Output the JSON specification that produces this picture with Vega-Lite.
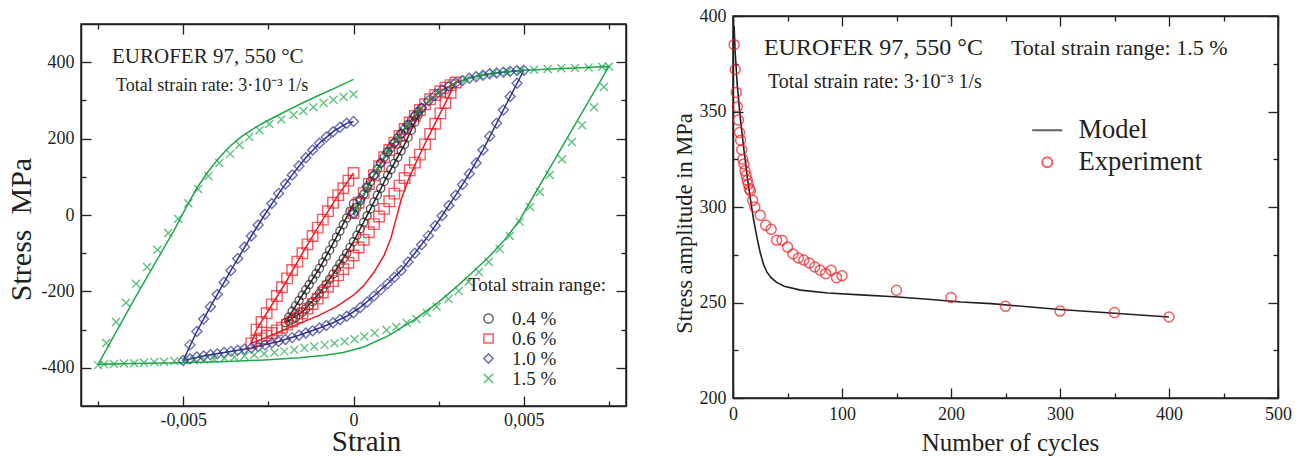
{
"$schema": "https://vega.github.io/schema/vega-lite/v6.json",
"background": "white",
"padding": {"left": 5, "top": 6, "right": 5, "bottom": 0},
"spacing": 44,
"resolve": {"scale": {"color": "independent", "shape": "independent"}, "legend": {"color": "independent", "shape": "independent"}},
"config": {
 "font": "Liberation Serif",
 "view": {"stroke": "#231f20", "strokeWidth": 1.5},
 "axis": {"grid": false, "domain": true, "domainColor": "#231f20", "domainWidth": 1.5, "tickColor": "#231f20", "tickWidth": 1.3, "labelColor": "#231f20", "titleColor": "#231f20", "labelFont": "Liberation Serif", "titleFont": "Liberation Serif", "titleFontWeight": "normal", "labelFlush": false, "labelOverlap": false, "labelFontSize": 18, "labelPadding": 17},
 "legend": {"labelFont": "Liberation Serif", "titleFont": "Liberation Serif", "labelColor": "#231f20", "titleColor": "#231f20", "titleFontWeight": "normal"},
 "title": {"font": "Liberation Serif"}
},
"datasets": {
 "model": [
  {"r":"0.4 %","e":0,"s":0},{"r":"0.4 %","e":0.5,"s":88},{"r":"0.4 %","e":1,"s":165},{"r":"0.4 %","e":1.5,"s":225},{"r":"0.4 %","e":2,"s":280},
  {"r":"0.4 %","e":1.5,"s":185},{"r":"0.4 %","e":1,"s":104},{"r":"0.4 %","e":0.5,"s":16},{"r":"0.4 %","e":0,"s":-70},{"r":"0.4 %","e":-0.5,"s":-142},{"r":"0.4 %","e":-1,"s":-205},{"r":"0.4 %","e":-1.5,"s":-254},{"r":"0.4 %","e":-2,"s":-282},
  {"r":"0.4 %","e":-1.5,"s":-210},{"r":"0.4 %","e":-1,"s":-140},{"r":"0.4 %","e":-0.5,"s":-58},{"r":"0.4 %","e":0,"s":30},
  {"r":"0.6 %","e":0,"s":0},{"r":"0.6 %","e":0.5,"s":88},{"r":"0.6 %","e":1,"s":165},{"r":"0.6 %","e":1.5,"s":225},{"r":"0.6 %","e":2,"s":281},{"r":"0.6 %","e":2.5,"s":321},{"r":"0.6 %","e":3,"s":347},
  {"r":"0.6 %","e":2.6,"s":276},{"r":"0.6 %","e":2.2,"s":205},{"r":"0.6 %","e":1.9,"s":150},{"r":"0.6 %","e":1.6,"s":90},{"r":"0.6 %","e":1.4,"s":40},{"r":"0.6 %","e":1.25,"s":-10},{"r":"0.6 %","e":1.1,"s":-60},{"r":"0.6 %","e":0.9,"s":-105},{"r":"0.6 %","e":0.6,"s":-150},{"r":"0.6 %","e":0.3,"s":-185},{"r":"0.6 %","e":0,"s":-210},{"r":"0.6 %","e":-0.5,"s":-240},{"r":"0.6 %","e":-1,"s":-262},{"r":"0.6 %","e":-1.5,"s":-281},{"r":"0.6 %","e":-2,"s":-299},{"r":"0.6 %","e":-2.5,"s":-318},{"r":"0.6 %","e":-3,"s":-336},
  {"r":"0.6 %","e":-2.85,"s":-300},{"r":"0.6 %","e":-2.5,"s":-250},{"r":"0.6 %","e":-2,"s":-178},{"r":"0.6 %","e":-1.5,"s":-100},{"r":"0.6 %","e":-1,"s":-26},{"r":"0.6 %","e":-0.5,"s":45},{"r":"0.6 %","e":0,"s":110},
  {"r":"1.0 %","e":0,"s":0},{"r":"1.0 %","e":0.5,"s":88},{"r":"1.0 %","e":1,"s":165},{"r":"1.0 %","e":1.5,"s":225},{"r":"1.0 %","e":2,"s":281},{"r":"1.0 %","e":2.5,"s":321},{"r":"1.0 %","e":3,"s":346},{"r":"1.0 %","e":3.5,"s":361},{"r":"1.0 %","e":4,"s":370},{"r":"1.0 %","e":4.5,"s":375},{"r":"1.0 %","e":5,"s":379},
  {"r":"1.0 %","e":4.6,"s":310},{"r":"1.0 %","e":4.2,"s":240},{"r":"1.0 %","e":3.8,"s":170},{"r":"1.0 %","e":3.4,"s":108},{"r":"1.0 %","e":3,"s":52},{"r":"1.0 %","e":2.6,"s":-2},{"r":"1.0 %","e":2.2,"s":-54},{"r":"1.0 %","e":1.8,"s":-100},{"r":"1.0 %","e":1.4,"s":-145},{"r":"1.0 %","e":1,"s":-180},{"r":"1.0 %","e":0.6,"s":-212},{"r":"1.0 %","e":0.2,"s":-242},{"r":"1.0 %","e":-0.2,"s":-265},{"r":"1.0 %","e":-0.6,"s":-282},{"r":"1.0 %","e":-1,"s":-296},{"r":"1.0 %","e":-1.6,"s":-315},{"r":"1.0 %","e":-2.2,"s":-331},{"r":"1.0 %","e":-3,"s":-348},{"r":"1.0 %","e":-3.8,"s":-360},{"r":"1.0 %","e":-4.4,"s":-369},{"r":"1.0 %","e":-5,"s":-381},
  {"r":"1.0 %","e":-4.6,"s":-305},{"r":"1.0 %","e":-4.2,"s":-240},{"r":"1.0 %","e":-3.6,"s":-145},{"r":"1.0 %","e":-3,"s":-55},{"r":"1.0 %","e":-2.6,"s":2},{"r":"1.0 %","e":-2.2,"s":56},{"r":"1.0 %","e":-1.8,"s":105},{"r":"1.0 %","e":-1.4,"s":150},{"r":"1.0 %","e":-1,"s":188},{"r":"1.0 %","e":-0.6,"s":218},{"r":"1.0 %","e":-0.2,"s":240},{"r":"1.0 %","e":0,"s":245},
  {"r":"1.5 %","e":0,"s":0},{"r":"1.5 %","e":0.5,"s":88},{"r":"1.5 %","e":1,"s":165},{"r":"1.5 %","e":1.5,"s":225},{"r":"1.5 %","e":2,"s":281},{"r":"1.5 %","e":2.5,"s":321},{"r":"1.5 %","e":3,"s":346},{"r":"1.5 %","e":3.5,"s":361},{"r":"1.5 %","e":4,"s":370},{"r":"1.5 %","e":4.5,"s":375},{"r":"1.5 %","e":5,"s":379},{"r":"1.5 %","e":5.5,"s":381},{"r":"1.5 %","e":6,"s":383},{"r":"1.5 %","e":6.5,"s":385},{"r":"1.5 %","e":7,"s":387},{"r":"1.5 %","e":7.5,"s":389},
  {"r":"1.5 %","e":6.2,"s":190},{"r":"1.5 %","e":4.88,"s":-13},{"r":"1.5 %","e":4.44,"s":-65},{"r":"1.5 %","e":3.97,"s":-110},{"r":"1.5 %","e":3.47,"s":-152},{"r":"1.5 %","e":3.09,"s":-183},{"r":"1.5 %","e":2.5,"s":-228},{"r":"1.5 %","e":1.79,"s":-274},{"r":"1.5 %","e":1.03,"s":-316},{"r":"1.5 %","e":0.32,"s":-345},{"r":"1.5 %","e":-0.3,"s":-360},{"r":"1.5 %","e":-0.9,"s":-368},{"r":"1.5 %","e":-1.6,"s":-374},{"r":"1.5 %","e":-2.5,"s":-379},{"r":"1.5 %","e":-3.5,"s":-383},{"r":"1.5 %","e":-5,"s":-387},{"r":"1.5 %","e":-6.5,"s":-389},{"r":"1.5 %","e":-7.5,"s":-391},
  {"r":"1.5 %","e":-6.4,"s":-215},{"r":"1.5 %","e":-5.26,"s":-39},{"r":"1.5 %","e":-4.9,"s":22},{"r":"1.5 %","e":-4.6,"s":70},{"r":"1.5 %","e":-4.3,"s":110},{"r":"1.5 %","e":-3.97,"s":147},{"r":"1.5 %","e":-3.65,"s":178},{"r":"1.5 %","e":-3.29,"s":205},{"r":"1.5 %","e":-2.9,"s":228},{"r":"1.5 %","e":-2.5,"s":248},{"r":"1.5 %","e":-2,"s":271},{"r":"1.5 %","e":-1.53,"s":292},{"r":"1.5 %","e":-1,"s":314},{"r":"1.5 %","e":-0.5,"s":334},{"r":"1.5 %","e":0,"s":355}
 ],
 "exp": [
  {"r":"0.4 %","e":0,"s":2},{"r":"0.4 %","e":0.1,"s":20},{"r":"0.4 %","e":0.2,"s":37},{"r":"0.4 %","e":0.3,"s":54},{"r":"0.4 %","e":0.4,"s":71},{"r":"0.4 %","e":0.5,"s":88},{"r":"0.4 %","e":0.6,"s":104},{"r":"0.4 %","e":0.7,"s":120},{"r":"0.4 %","e":0.8,"s":136},{"r":"0.4 %","e":0.9,"s":151},{"r":"0.4 %","e":1,"s":165},{"r":"0.4 %","e":1.1,"s":177},{"r":"0.4 %","e":1.2,"s":189},{"r":"0.4 %","e":1.3,"s":201},{"r":"0.4 %","e":1.4,"s":213},{"r":"0.4 %","e":1.5,"s":225},{"r":"0.4 %","e":1.6,"s":236},{"r":"0.4 %","e":1.7,"s":247},{"r":"0.4 %","e":1.8,"s":259},{"r":"0.4 %","e":1.9,"s":270},{"r":"0.4 %","e":2,"s":280},
  {"r":"0.4 %","e":1.9,"s":262},{"r":"0.4 %","e":1.8,"s":243},{"r":"0.4 %","e":1.7,"s":222},{"r":"0.4 %","e":1.6,"s":203},{"r":"0.4 %","e":1.5,"s":185},{"r":"0.4 %","e":1.4,"s":168},{"r":"0.4 %","e":1.3,"s":151},{"r":"0.4 %","e":1.2,"s":135},{"r":"0.4 %","e":1.1,"s":119},{"r":"0.4 %","e":1,"s":104},{"r":"0.4 %","e":0.9,"s":88},{"r":"0.4 %","e":0.8,"s":70},{"r":"0.4 %","e":0.7,"s":52},{"r":"0.4 %","e":0.6,"s":34},{"r":"0.4 %","e":0.5,"s":16},{"r":"0.4 %","e":0.4,"s":-2},{"r":"0.4 %","e":0.3,"s":-19},{"r":"0.4 %","e":0.2,"s":-36},{"r":"0.4 %","e":0.1,"s":-53},{"r":"0.4 %","e":0,"s":-70},{"r":"0.4 %","e":-0.1,"s":-85},{"r":"0.4 %","e":-0.2,"s":-100},{"r":"0.4 %","e":-0.3,"s":-114},{"r":"0.4 %","e":-0.4,"s":-128},{"r":"0.4 %","e":-0.5,"s":-142},{"r":"0.4 %","e":-0.6,"s":-155},{"r":"0.4 %","e":-0.7,"s":-168},{"r":"0.4 %","e":-0.8,"s":-181},{"r":"0.4 %","e":-0.9,"s":-193},{"r":"0.4 %","e":-1,"s":-205},{"r":"0.4 %","e":-1.1,"s":-216},{"r":"0.4 %","e":-1.2,"s":-227},{"r":"0.4 %","e":-1.3,"s":-237},{"r":"0.4 %","e":-1.4,"s":-246},{"r":"0.4 %","e":-1.5,"s":-254},{"r":"0.4 %","e":-1.6,"s":-261},{"r":"0.4 %","e":-1.7,"s":-268},{"r":"0.4 %","e":-1.8,"s":-273},{"r":"0.4 %","e":-1.9,"s":-278},{"r":"0.4 %","e":-2,"s":-282},
  {"r":"0.4 %","e":-1.9,"s":-267},{"r":"0.4 %","e":-1.8,"s":-252},{"r":"0.4 %","e":-1.7,"s":-238},{"r":"0.4 %","e":-1.6,"s":-224},{"r":"0.4 %","e":-1.5,"s":-210},{"r":"0.4 %","e":-1.4,"s":-196},{"r":"0.4 %","e":-1.3,"s":-182},{"r":"0.4 %","e":-1.2,"s":-168},{"r":"0.4 %","e":-1.1,"s":-154},{"r":"0.4 %","e":-1,"s":-140},{"r":"0.4 %","e":-0.9,"s":-124},{"r":"0.4 %","e":-0.8,"s":-108},{"r":"0.4 %","e":-0.7,"s":-92},{"r":"0.4 %","e":-0.6,"s":-75},{"r":"0.4 %","e":-0.5,"s":-58},{"r":"0.4 %","e":-0.4,"s":-42},{"r":"0.4 %","e":-0.3,"s":-25},{"r":"0.4 %","e":-0.2,"s":-8},{"r":"0.4 %","e":-0.1,"s":10},{"r":"0.4 %","e":0,"s":30},
  {"r":"0.6 %","e":0,"s":5},{"r":"0.6 %","e":0.15,"s":32},{"r":"0.6 %","e":0.3,"s":58},{"r":"0.6 %","e":0.45,"s":81},{"r":"0.6 %","e":0.6,"s":104},{"r":"0.6 %","e":0.75,"s":128},{"r":"0.6 %","e":0.9,"s":151},{"r":"0.6 %","e":1.05,"s":170},{"r":"0.6 %","e":1.2,"s":189},{"r":"0.6 %","e":1.35,"s":207},{"r":"0.6 %","e":1.5,"s":225},{"r":"0.6 %","e":1.65,"s":242},{"r":"0.6 %","e":1.8,"s":259},{"r":"0.6 %","e":1.95,"s":275},{"r":"0.6 %","e":2.1,"s":290},{"r":"0.6 %","e":2.25,"s":303},{"r":"0.6 %","e":2.4,"s":314},{"r":"0.6 %","e":2.55,"s":324},{"r":"0.6 %","e":2.7,"s":333},{"r":"0.6 %","e":2.85,"s":340},{"r":"0.6 %","e":3,"s":347},
  {"r":"0.6 %","e":2.85,"s":320},{"r":"0.6 %","e":2.7,"s":293},{"r":"0.6 %","e":2.55,"s":266},{"r":"0.6 %","e":2.4,"s":239},{"r":"0.6 %","e":2.25,"s":212},{"r":"0.6 %","e":2.1,"s":185},{"r":"0.6 %","e":1.95,"s":158},{"r":"0.6 %","e":1.8,"s":137},{"r":"0.6 %","e":1.65,"s":117},{"r":"0.6 %","e":1.5,"s":97},{"r":"0.6 %","e":1.35,"s":77},{"r":"0.6 %","e":1.2,"s":56},{"r":"0.6 %","e":1.05,"s":36},{"r":"0.6 %","e":0.9,"s":16},{"r":"0.6 %","e":0.75,"s":-4},{"r":"0.6 %","e":0.6,"s":-24},{"r":"0.6 %","e":0.45,"s":-45},{"r":"0.6 %","e":0.3,"s":-65},{"r":"0.6 %","e":0.15,"s":-85},{"r":"0.6 %","e":0,"s":-106},{"r":"0.6 %","e":-0.15,"s":-125},{"r":"0.6 %","e":-0.3,"s":-142},{"r":"0.6 %","e":-0.45,"s":-158},{"r":"0.6 %","e":-0.6,"s":-173},{"r":"0.6 %","e":-0.75,"s":-188},{"r":"0.6 %","e":-0.9,"s":-203},{"r":"0.6 %","e":-1.05,"s":-219},{"r":"0.6 %","e":-1.2,"s":-233},{"r":"0.6 %","e":-1.35,"s":-245},{"r":"0.6 %","e":-1.5,"s":-258},{"r":"0.6 %","e":-1.65,"s":-268},{"r":"0.6 %","e":-1.8,"s":-278},{"r":"0.6 %","e":-1.95,"s":-287},{"r":"0.6 %","e":-2.1,"s":-295},{"r":"0.6 %","e":-2.25,"s":-302},{"r":"0.6 %","e":-2.4,"s":-309},{"r":"0.6 %","e":-2.55,"s":-316},{"r":"0.6 %","e":-2.7,"s":-323},{"r":"0.6 %","e":-2.85,"s":-329},{"r":"0.6 %","e":-3,"s":-336},
  {"r":"0.6 %","e":-2.85,"s":-300},{"r":"0.6 %","e":-2.7,"s":-280},{"r":"0.6 %","e":-2.55,"s":-257},{"r":"0.6 %","e":-2.4,"s":-234},{"r":"0.6 %","e":-2.25,"s":-212},{"r":"0.6 %","e":-2.1,"s":-189},{"r":"0.6 %","e":-1.95,"s":-166},{"r":"0.6 %","e":-1.8,"s":-144},{"r":"0.6 %","e":-1.65,"s":-122},{"r":"0.6 %","e":-1.5,"s":-100},{"r":"0.6 %","e":-1.35,"s":-77},{"r":"0.6 %","e":-1.2,"s":-55},{"r":"0.6 %","e":-1.05,"s":-33},{"r":"0.6 %","e":-0.9,"s":-12},{"r":"0.6 %","e":-0.75,"s":10},{"r":"0.6 %","e":-0.6,"s":32},{"r":"0.6 %","e":-0.45,"s":52},{"r":"0.6 %","e":-0.3,"s":70},{"r":"0.6 %","e":-0.15,"s":90},{"r":"0.6 %","e":0,"s":110},
  {"r":"1.0 %","e":0,"s":5},{"r":"1.0 %","e":0.2,"s":42},{"r":"1.0 %","e":0.4,"s":75},{"r":"1.0 %","e":0.6,"s":104},{"r":"1.0 %","e":0.8,"s":136},{"r":"1.0 %","e":1,"s":165},{"r":"1.0 %","e":1.2,"s":189},{"r":"1.0 %","e":1.4,"s":213},{"r":"1.0 %","e":1.6,"s":236},{"r":"1.0 %","e":1.8,"s":259},{"r":"1.0 %","e":2,"s":280},{"r":"1.0 %","e":2.2,"s":299},{"r":"1.0 %","e":2.4,"s":314},{"r":"1.0 %","e":2.6,"s":327},{"r":"1.0 %","e":2.8,"s":337},{"r":"1.0 %","e":3,"s":346},{"r":"1.0 %","e":3.2,"s":352},{"r":"1.0 %","e":3.4,"s":358},{"r":"1.0 %","e":3.6,"s":362},{"r":"1.0 %","e":3.8,"s":366},{"r":"1.0 %","e":4,"s":370},{"r":"1.0 %","e":4.2,"s":372},{"r":"1.0 %","e":4.4,"s":374},{"r":"1.0 %","e":4.6,"s":376},{"r":"1.0 %","e":4.8,"s":378},{"r":"1.0 %","e":5,"s":379},
  {"r":"1.0 %","e":4.8,"s":345},{"r":"1.0 %","e":4.6,"s":310},{"r":"1.0 %","e":4.4,"s":275},{"r":"1.0 %","e":4.2,"s":240},{"r":"1.0 %","e":4,"s":206},{"r":"1.0 %","e":3.8,"s":170},{"r":"1.0 %","e":3.6,"s":136},{"r":"1.0 %","e":3.4,"s":108},{"r":"1.0 %","e":3.2,"s":80},{"r":"1.0 %","e":3,"s":52},{"r":"1.0 %","e":2.8,"s":25},{"r":"1.0 %","e":2.6,"s":-2},{"r":"1.0 %","e":2.4,"s":-28},{"r":"1.0 %","e":2.2,"s":-54},{"r":"1.0 %","e":2,"s":-78},{"r":"1.0 %","e":1.8,"s":-100},{"r":"1.0 %","e":1.6,"s":-123},{"r":"1.0 %","e":1.4,"s":-145},{"r":"1.0 %","e":1.2,"s":-163},{"r":"1.0 %","e":1,"s":-180},{"r":"1.0 %","e":0.8,"s":-196},{"r":"1.0 %","e":0.6,"s":-212},{"r":"1.0 %","e":0.4,"s":-228},{"r":"1.0 %","e":0.2,"s":-242},{"r":"1.0 %","e":0,"s":-256},{"r":"1.0 %","e":-0.2,"s":-265},{"r":"1.0 %","e":-0.4,"s":-274},{"r":"1.0 %","e":-0.6,"s":-282},{"r":"1.0 %","e":-0.8,"s":-289},{"r":"1.0 %","e":-1,"s":-296},{"r":"1.0 %","e":-1.2,"s":-303},{"r":"1.0 %","e":-1.4,"s":-309},{"r":"1.0 %","e":-1.6,"s":-315},{"r":"1.0 %","e":-1.8,"s":-321},{"r":"1.0 %","e":-2,"s":-326},{"r":"1.0 %","e":-2.2,"s":-331},{"r":"1.0 %","e":-2.4,"s":-335},{"r":"1.0 %","e":-2.6,"s":-340},{"r":"1.0 %","e":-2.8,"s":-344},{"r":"1.0 %","e":-3,"s":-348},{"r":"1.0 %","e":-3.2,"s":-351},{"r":"1.0 %","e":-3.4,"s":-354},{"r":"1.0 %","e":-3.6,"s":-357},{"r":"1.0 %","e":-3.8,"s":-360},{"r":"1.0 %","e":-4,"s":-363},{"r":"1.0 %","e":-4.2,"s":-366},{"r":"1.0 %","e":-4.4,"s":-369},{"r":"1.0 %","e":-4.6,"s":-372},{"r":"1.0 %","e":-4.8,"s":-376},{"r":"1.0 %","e":-5,"s":-381},
  {"r":"1.0 %","e":-4.8,"s":-340},{"r":"1.0 %","e":-4.6,"s":-305},{"r":"1.0 %","e":-4.4,"s":-272},{"r":"1.0 %","e":-4.2,"s":-240},{"r":"1.0 %","e":-4,"s":-208},{"r":"1.0 %","e":-3.8,"s":-176},{"r":"1.0 %","e":-3.6,"s":-145},{"r":"1.0 %","e":-3.4,"s":-114},{"r":"1.0 %","e":-3.2,"s":-84},{"r":"1.0 %","e":-3,"s":-55},{"r":"1.0 %","e":-2.8,"s":-26},{"r":"1.0 %","e":-2.6,"s":2},{"r":"1.0 %","e":-2.4,"s":30},{"r":"1.0 %","e":-2.2,"s":56},{"r":"1.0 %","e":-2,"s":81},{"r":"1.0 %","e":-1.8,"s":105},{"r":"1.0 %","e":-1.6,"s":128},{"r":"1.0 %","e":-1.4,"s":150},{"r":"1.0 %","e":-1.2,"s":170},{"r":"1.0 %","e":-1,"s":188},{"r":"1.0 %","e":-0.8,"s":204},{"r":"1.0 %","e":-0.6,"s":218},{"r":"1.0 %","e":-0.4,"s":230},{"r":"1.0 %","e":-0.2,"s":240},{"r":"1.0 %","e":0,"s":245},
  {"r":"1.5 %","e":0.1,"s":20},{"r":"1.5 %","e":0.4,"s":71},{"r":"1.5 %","e":0.7,"s":120},{"r":"1.5 %","e":1,"s":165},{"r":"1.5 %","e":1.3,"s":201},{"r":"1.5 %","e":1.6,"s":236},{"r":"1.5 %","e":1.9,"s":270},{"r":"1.5 %","e":2.2,"s":299},{"r":"1.5 %","e":2.5,"s":321},{"r":"1.5 %","e":2.9,"s":340},{"r":"1.5 %","e":3.3,"s":355},{"r":"1.5 %","e":3.7,"s":365},{"r":"1.5 %","e":4.1,"s":371},{"r":"1.5 %","e":4.5,"s":375},{"r":"1.5 %","e":4.9,"s":378},{"r":"1.5 %","e":5.3,"s":380},{"r":"1.5 %","e":5.7,"s":382},{"r":"1.5 %","e":6.1,"s":384},{"r":"1.5 %","e":6.5,"s":385},{"r":"1.5 %","e":6.9,"s":386},{"r":"1.5 %","e":7.3,"s":388},{"r":"1.5 %","e":7.5,"s":389},
  {"r":"1.5 %","e":7.35,"s":335},{"r":"1.5 %","e":7.06,"s":282},{"r":"1.5 %","e":6.71,"s":235},{"r":"1.5 %","e":6.41,"s":191},{"r":"1.5 %","e":6.12,"s":146},{"r":"1.5 %","e":5.76,"s":105},{"r":"1.5 %","e":5.47,"s":60},{"r":"1.5 %","e":5.18,"s":21},{"r":"1.5 %","e":4.88,"s":-18},{"r":"1.5 %","e":4.59,"s":-55},{"r":"1.5 %","e":4.29,"s":-89},{"r":"1.5 %","e":3.97,"s":-123},{"r":"1.5 %","e":3.68,"s":-149},{"r":"1.5 %","e":3.38,"s":-175},{"r":"1.5 %","e":3.09,"s":-199},{"r":"1.5 %","e":2.79,"s":-220},{"r":"1.5 %","e":2.44,"s":-240},{"r":"1.5 %","e":2.15,"s":-256},{"r":"1.5 %","e":1.85,"s":-272},{"r":"1.5 %","e":1.56,"s":-282},{"r":"1.5 %","e":1.26,"s":-293},{"r":"1.5 %","e":0.97,"s":-301},{"r":"1.5 %","e":0.62,"s":-309},{"r":"1.5 %","e":0.32,"s":-318},{"r":"1.5 %","e":0.03,"s":-325},{"r":"1.5 %","e":-0.26,"s":-331},{"r":"1.5 %","e":-0.56,"s":-336},{"r":"1.5 %","e":-0.85,"s":-340},{"r":"1.5 %","e":-1.15,"s":-344},{"r":"1.5 %","e":-1.44,"s":-348},{"r":"1.5 %","e":-1.74,"s":-353},{"r":"1.5 %","e":-2.03,"s":-357},{"r":"1.5 %","e":-2.32,"s":-360},{"r":"1.5 %","e":-2.62,"s":-363},{"r":"1.5 %","e":-2.91,"s":-366},{"r":"1.5 %","e":-3.2,"s":-369},{"r":"1.5 %","e":-3.5,"s":-372},{"r":"1.5 %","e":-3.79,"s":-375},{"r":"1.5 %","e":-4.09,"s":-377},{"r":"1.5 %","e":-4.38,"s":-379},{"r":"1.5 %","e":-4.68,"s":-380},{"r":"1.5 %","e":-4.97,"s":-381},{"r":"1.5 %","e":-5.26,"s":-382},{"r":"1.5 %","e":-5.56,"s":-384},{"r":"1.5 %","e":-5.85,"s":-385},{"r":"1.5 %","e":-6.15,"s":-387},{"r":"1.5 %","e":-6.44,"s":-388},{"r":"1.5 %","e":-6.74,"s":-389},{"r":"1.5 %","e":-7.03,"s":-390},{"r":"1.5 %","e":-7.32,"s":-391},{"r":"1.5 %","e":-7.5,"s":-393},
  {"r":"1.5 %","e":-7.26,"s":-335},{"r":"1.5 %","e":-6.97,"s":-280},{"r":"1.5 %","e":-6.68,"s":-230},{"r":"1.5 %","e":-6.38,"s":-180},{"r":"1.5 %","e":-6.06,"s":-136},{"r":"1.5 %","e":-5.76,"s":-91},{"r":"1.5 %","e":-5.44,"s":-47},{"r":"1.5 %","e":-5.15,"s":-10},{"r":"1.5 %","e":-4.85,"s":31},{"r":"1.5 %","e":-4.56,"s":68},{"r":"1.5 %","e":-4.26,"s":102},{"r":"1.5 %","e":-3.94,"s":136},{"r":"1.5 %","e":-3.62,"s":160},{"r":"1.5 %","e":-3.35,"s":183},{"r":"1.5 %","e":-3.06,"s":204},{"r":"1.5 %","e":-2.76,"s":222},{"r":"1.5 %","e":-2.47,"s":238},{"r":"1.5 %","e":-2.12,"s":250},{"r":"1.5 %","e":-1.76,"s":262},{"r":"1.5 %","e":-1.47,"s":272},{"r":"1.5 %","e":-1.18,"s":282},{"r":"1.5 %","e":-0.88,"s":293},{"r":"1.5 %","e":-0.59,"s":302},{"r":"1.5 %","e":-0.29,"s":309},{"r":"1.5 %","e":0,"s":316}
 ],
 "cmodel": [
  {"k":"Model","n":1,"s":395},{"k":"Model","n":2,"s":381},{"k":"Model","n":4,"s":363},{"k":"Model","n":7,"s":345},{"k":"Model","n":10,"s":330},{"k":"Model","n":13,"s":316},{"k":"Model","n":16,"s":304},{"k":"Model","n":19,"s":293},{"k":"Model","n":22,"s":284},{"k":"Model","n":25,"s":276},{"k":"Model","n":28,"s":270},{"k":"Model","n":31,"s":266},{"k":"Model","n":35,"s":263},{"k":"Model","n":40,"s":260.5},{"k":"Model","n":47,"s":258.5},{"k":"Model","n":62,"s":256.5},{"k":"Model","n":87,"s":255},{"k":"Model","n":117,"s":254},{"k":"Model","n":148,"s":253},{"k":"Model","n":179,"s":251.7},{"k":"Model","n":209,"s":250.3},{"k":"Model","n":237,"s":249.4},{"k":"Model","n":300,"s":246.3},{"k":"Model","n":350,"s":244.4},{"k":"Model","n":400,"s":242.4}
 ],
 "cexp": [
  {"k":"Experiment","n":1,"s":385},{"k":"Experiment","n":2,"s":372},{"k":"Experiment","n":3,"s":360},{"k":"Experiment","n":4,"s":352.5},{"k":"Experiment","n":5,"s":345.5},{"k":"Experiment","n":6,"s":339},{"k":"Experiment","n":7,"s":335},{"k":"Experiment","n":8,"s":330},{"k":"Experiment","n":9,"s":325},{"k":"Experiment","n":10,"s":322.5},{"k":"Experiment","n":11,"s":319},{"k":"Experiment","n":12,"s":316.5},{"k":"Experiment","n":13,"s":314},{"k":"Experiment","n":14,"s":312},{"k":"Experiment","n":15,"s":309.5},{"k":"Experiment","n":16,"s":308.5},{"k":"Experiment","n":18,"s":303.5},{"k":"Experiment","n":20,"s":300},{"k":"Experiment","n":25,"s":295.7},{"k":"Experiment","n":30,"s":290.4},{"k":"Experiment","n":35,"s":288.3},{"k":"Experiment","n":40,"s":282.6},{"k":"Experiment","n":45,"s":282.6},{"k":"Experiment","n":50,"s":279},{"k":"Experiment","n":55,"s":275.4},{"k":"Experiment","n":60,"s":273.3},{"k":"Experiment","n":65,"s":272.2},{"k":"Experiment","n":70,"s":270.7},{"k":"Experiment","n":75,"s":268.6},{"k":"Experiment","n":80,"s":266.9},{"k":"Experiment","n":85,"s":265.1},{"k":"Experiment","n":90,"s":266.9},{"k":"Experiment","n":95,"s":263},{"k":"Experiment","n":100,"s":264},{"k":"Experiment","n":150,"s":256.4},{"k":"Experiment","n":200,"s":252.6},{"k":"Experiment","n":250,"s":248},{"k":"Experiment","n":300,"s":245.5},{"k":"Experiment","n":350,"s":244.7},{"k":"Experiment","n":400,"s":242.4}
 ]
},
"hconcat": [
 {
  "spacing": 2,
  "vconcat": [
   {"width": 545, "height": 1, "data": {"values": [{}]}, "mark": {"type": "point", "opacity": 0}, "view": {"stroke": null}},
   {
    "width": 545, "height": 382,
    "layer": [
     {"data": {"name": "model"},
      "mark": {"type": "line", "strokeWidth": 1.5, "clip": true},
      "encoding": {
       "x": {"field": "e", "type": "quantitative", "scale": {"domain": [-8, 8], "nice": false, "zero": false},
        "axis": {"orient": "bottom", "values": [-7.5, -5, -2.5, 0, 2.5, 5, 7.5], "labelExpr": "datum.value == 0 ? '0' : (datum.value % 5 == 0 ? (datum.value < 0 ? '-0,00' : '0,00') + abs(datum.value) : '')", "tickSize": {"condition": {"test": "datum.value % 5 == 0", "value": -10}, "value": -5}, "labelPadding": 15, "title": "Strain", "titleFontSize": 29, "titlePadding": -7, "titleX": 285}},
       "y": {"field": "s", "type": "quantitative", "scale": {"domain": [-500, 500], "nice": false, "zero": false},
        "axis": {"orient": "left", "values": [-400, -300, -200, -100, 0, 100, 200, 300, 400], "labelExpr": "datum.value % 200 == 0 ? '' + datum.value : ''", "tickSize": {"condition": {"test": "datum.value % 200 == 0", "value": -10}, "value": -5}, "title": "Stress\u00a0 MPa", "titleFontSize": 30, "titlePadding": 5, "titleY": 205}},
       "color": {"field": "r", "type": "nominal", "scale": {"domain": ["0.4 %", "0.6 %", "1.0 %", "1.5 %"], "range": ["#231f20", "#ec1c24", "#2e3192", "#1fa84a"]},
        "legend": {"title": "Total strain range:", "orient": "none", "legendX": 387, "legendY": 260, "padding": 0, "titleFontSize": 19, "titlePadding": 14, "labelFontSize": 19, "symbolOffset": 11, "labelOffset": 14, "rowPadding": -2, "symbolSize": 85, "symbolStrokeWidth": 1.5}},
       "order": {"value": null}
      }},
     {"data": {"name": "exp"},
      "mark": {"type": "point", "filled": false, "strokeWidth": 1.4, "clip": true},
      "encoding": {
       "x": {"field": "e", "type": "quantitative", "scale": {"domain": [-8, 8], "nice": false, "zero": false},
        "axis": {"orient": "top", "values": [-7.5, -5, -2.5, 0, 2.5, 5, 7.5], "labels": false, "title": null, "tickSize": {"condition": {"test": "datum.value % 5 == 0", "value": -10}, "value": -5}}},
       "y": {"field": "s", "type": "quantitative", "scale": {"domain": [-500, 500], "nice": false, "zero": false},
        "axis": {"orient": "right", "values": [-400, -300, -200, -100, 0, 100, 200, 300, 400], "labels": false, "title": null, "tickSize": {"condition": {"test": "datum.value % 200 == 0", "value": -10}, "value": -5}}},
       "color": {"field": "r", "type": "nominal", "scale": {"domain": ["0.4 %", "0.6 %", "1.0 %", "1.5 %"], "range": ["#231f20", "#ec1c24", "#2e3192", "#1fa84a"]},
        "legend": {"title": "Total strain range:", "orient": "none", "legendX": 387, "legendY": 260, "padding": 0, "titleFontSize": 19, "titlePadding": 14, "labelFontSize": 19, "symbolOffset": 11, "labelOffset": 14, "rowPadding": -2, "symbolSize": 85, "symbolStrokeWidth": 1.5}},
       "shape": {"field": "r", "type": "nominal", "scale": {"domain": ["0.4 %", "0.6 %", "1.0 %", "1.5 %"], "range": ["circle", "square", "diamond", "M-1,-1L1,1M1,-1L-1,1"]},
        "legend": {"title": "Total strain range:", "orient": "none", "legendX": 387, "legendY": 260, "padding": 0, "titleFontSize": 19, "titlePadding": 14, "labelFontSize": 19, "symbolOffset": 11, "labelOffset": 14, "rowPadding": -2, "symbolSize": 85, "symbolStrokeWidth": 1.5}},
       "size": {"condition": [{"test": "datum.r == '0.4 %'", "value": 66}, {"test": "datum.r == '1.0 %'", "value": 100}, {"test": "datum.r == '1.5 %'", "value": 64}], "value": 110}
      }},
     {"data": {"values": [{"t": "EUROFER 97, 550 °C"}]},
      "mark": {"type": "text", "align": "left", "baseline": "alphabetic", "fontSize": 21, "font": "Liberation Serif", "color": "#231f20"},
      "encoding": {"x": {"datum": -7.09, "type": "quantitative", "axis": null}, "y": {"datum": 399, "type": "quantitative", "axis": null}, "text": {"field": "t"}}},
     {"data": {"values": [{"t": "Total strain rate: 3·10⁻³ 1/s"}]},
      "mark": {"type": "text", "align": "left", "baseline": "alphabetic", "fontSize": 18, "font": "Liberation Serif", "color": "#231f20"},
      "encoding": {"x": {"datum": -6.97, "type": "quantitative", "axis": null}, "y": {"datum": 325, "type": "quantitative", "axis": null}, "text": {"field": "t"}}}
    ],
    "resolve": {"axis": {"x": "independent", "y": "independent"}}
   }
  ]
 },
 {
  "width": 545, "height": 382,
  "layer": [
   {"data": {"name": "cmodel"},
    "mark": {"type": "line", "strokeWidth": 1.6},
    "encoding": {
     "x": {"field": "n", "type": "quantitative", "scale": {"domain": [0, 500], "nice": false, "zero": false},
      "axis": {"orient": "bottom", "values": [0, 50, 100, 150, 200, 250, 300, 350, 400, 450, 500], "labelExpr": "datum.value % 100 == 0 ? '' + datum.value : ''", "tickSize": {"condition": {"test": "datum.value % 100 == 0", "value": -10}, "value": -5}, "title": "Number of cycles", "titleFontSize": 25, "titlePadding": 2, "titleX": 277}},
     "y": {"field": "s", "type": "quantitative", "scale": {"domain": [200, 400], "nice": false, "zero": false},
      "axis": {"orient": "left", "values": [200, 225, 250, 275, 300, 325, 350, 375, 400], "labelExpr": "datum.value % 50 == 0 ? '' + datum.value : ''", "tickSize": {"condition": {"test": "datum.value % 50 == 0", "value": -10}, "value": -5}, "title": "Stress amplitude in MPa", "titleFontSize": 22.5, "titlePadding": 3, "titleY": 207}},
     "color": {"field": "k", "type": "nominal", "scale": {"domain": ["Model", "Experiment"], "range": ["#231f20", "#ec1c24"]},
      "legend": {"title": null, "orient": "none", "legendX": 301, "legendY": 101, "padding": 0, "labelFontSize": 26.5, "labelOffset": 18, "rowPadding": 5, "symbolSize": 100, "symbolStrokeWidth": 2}},
     "order": {"value": null}
    }},
   {"data": {"name": "cexp"},
    "mark": {"type": "point", "filled": false, "strokeWidth": 1.5, "size": 100},
    "encoding": {
     "x": {"field": "n", "type": "quantitative", "scale": {"domain": [0, 500], "nice": false, "zero": false},
      "axis": {"orient": "top", "values": [0, 50, 100, 150, 200, 250, 300, 350, 400, 450, 500], "labels": false, "title": null, "tickSize": {"condition": {"test": "datum.value % 100 == 0", "value": -10}, "value": -5}}},
     "y": {"field": "s", "type": "quantitative", "scale": {"domain": [200, 400], "nice": false, "zero": false},
      "axis": {"orient": "right", "values": [200, 225, 250, 275, 300, 325, 350, 375, 400], "labels": false, "title": null, "tickSize": {"condition": {"test": "datum.value % 50 == 0", "value": -10}, "value": -5}}},
     "color": {"field": "k", "type": "nominal", "scale": {"domain": ["Model", "Experiment"], "range": ["#231f20", "#ec1c24"]},
      "legend": {"title": null, "orient": "none", "legendX": 301, "legendY": 101, "padding": 0, "labelFontSize": 26.5, "labelOffset": 18, "rowPadding": 5, "symbolSize": 100, "symbolStrokeWidth": 2}},
     "shape": {"field": "k", "type": "nominal", "scale": {"domain": ["Model", "Experiment"], "range": ["M-3,0H3", "circle"]},
      "legend": {"title": null, "orient": "none", "legendX": 301, "legendY": 101, "padding": 0, "labelFontSize": 26.5, "labelOffset": 18, "rowPadding": 5, "symbolSize": 100, "symbolStrokeWidth": 2}}
    }},
   {"data": {"values": [{"t": "EUROFER 97, 550 °C"}]},
    "mark": {"type": "text", "align": "left", "baseline": "alphabetic", "fontSize": 24, "font": "Liberation Serif", "color": "#231f20"},
    "encoding": {"x": {"datum": 28.4, "type": "quantitative", "axis": null}, "y": {"datum": 379.4, "type": "quantitative", "axis": null}, "text": {"field": "t"}}},
   {"data": {"values": [{"t": "Total strain rate: 3·10⁻³ 1/s"}]},
    "mark": {"type": "text", "align": "left", "baseline": "alphabetic", "fontSize": 20, "font": "Liberation Serif", "color": "#231f20"},
    "encoding": {"x": {"datum": 32.1, "type": "quantitative", "axis": null}, "y": {"datum": 362.1, "type": "quantitative", "axis": null}, "text": {"field": "t"}}},
   {"data": {"values": [{"t": "Total strain range: 1.5 %"}]},
    "mark": {"type": "text", "align": "left", "baseline": "alphabetic", "fontSize": 22, "font": "Liberation Serif", "color": "#231f20"},
    "encoding": {"x": {"datum": 255, "type": "quantitative", "axis": null}, "y": {"datum": 379.4, "type": "quantitative", "axis": null}, "text": {"field": "t"}}}
  ],
  "resolve": {"axis": {"x": "independent", "y": "independent"}}
 }
]
}
